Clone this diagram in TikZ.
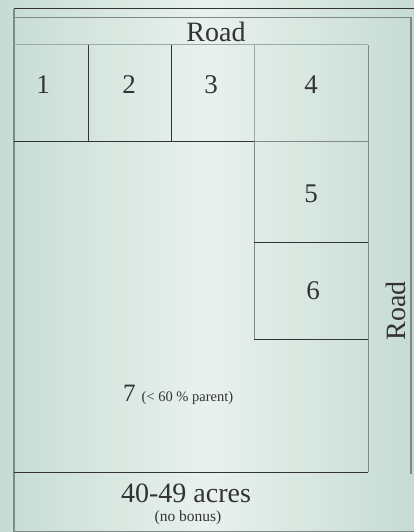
\documentclass[tikz,border=0pt]{standalone}
\usepackage{fontspec}
\setmainfont{Liberation Serif}
\definecolor{edgeC}{HTML}{C6DCD3}
\definecolor{midC}{HTML}{E9F1ED}
\definecolor{darkL}{HTML}{333333}
\definecolor{greyL}{HTML}{7F8A86}
\definecolor{paleL}{HTML}{9AAAA4}
\tikzset{
  dk/.style={draw=darkL, line width=1pt},
  gy/.style={draw=greyL, line width=1pt},
  pl/.style={draw=paleL, line width=1pt},
  num/.style={font=\fontsize{27}{30}\selectfont, text=darkL, inner sep=0pt},
  big/.style={font=\fontsize{28}{32}\selectfont, text=darkL, inner sep=0pt},
}
\begin{document}
\begin{tikzpicture}[x=1pt, y=-1pt]
\useasboundingbox (0,0) rectangle (414,532);
\shade[left color=edgeC, right color=edgeC, middle color=midC] (0,0) rectangle (414,532);
% outer frame
\draw[dk] (14,9) -- (414,9);
\draw[gy, line width=1.3pt] (14,9) -- (14,531.5);
\draw[gy, line width=1.3pt] (14,17.5) -- (411,17.5) -- (411,474);
\draw[gy] (14,531.5) -- (414,531.5);
% road band lower edge
\draw[pl] (14,45) -- (368,45);
% plot grid
\draw[dk] (88,45) -- (88,141);
\draw[dk] (171,45) -- (171,141);
\draw[pl] (254,45) -- (254,141);
\draw[gy] (254,141) -- (254,339);
\draw[dk] (14,141) -- (254,141);
\draw[gy] (254,141) -- (368,141);
\draw[dk] (254,242) -- (368,242);
\draw[dk] (254,339) -- (368,339);
\draw[gy] (368,45) -- (368,472);
\draw[dk] (14,472) -- (368,472);
% labels
\node[big] (roadtop) at (216,32) {Road};
\node[num] (p1) at (43,85) {1};
\node[num] (p2) at (129,85) {2};
\node[num] (p3) at (211,85) {3};
\node[num] (p4) at (311,85) {4};
\node[num] (p5) at (311,194) {5};
\node[num] (p6) at (313,291) {6};
\node[big, rotate=90] (roadside) at (396,311) {Road};
\node[inner sep=0pt, text=darkL, anchor=base west] (p7) at (123,401) {\fontsize{25}{28}\selectfont 7\hspace{6pt}\fontsize{14.5}{17}\selectfont (< 60 \% parent)};
\node[big, text=darkL] (acres) at (186,493) {40-49 acres};
\node[inner sep=0pt, text=darkL, font=\fontsize{15.5}{18}\selectfont] (bonus) at (188,518) {(no bonus)};
\end{tikzpicture}
\end{document}
